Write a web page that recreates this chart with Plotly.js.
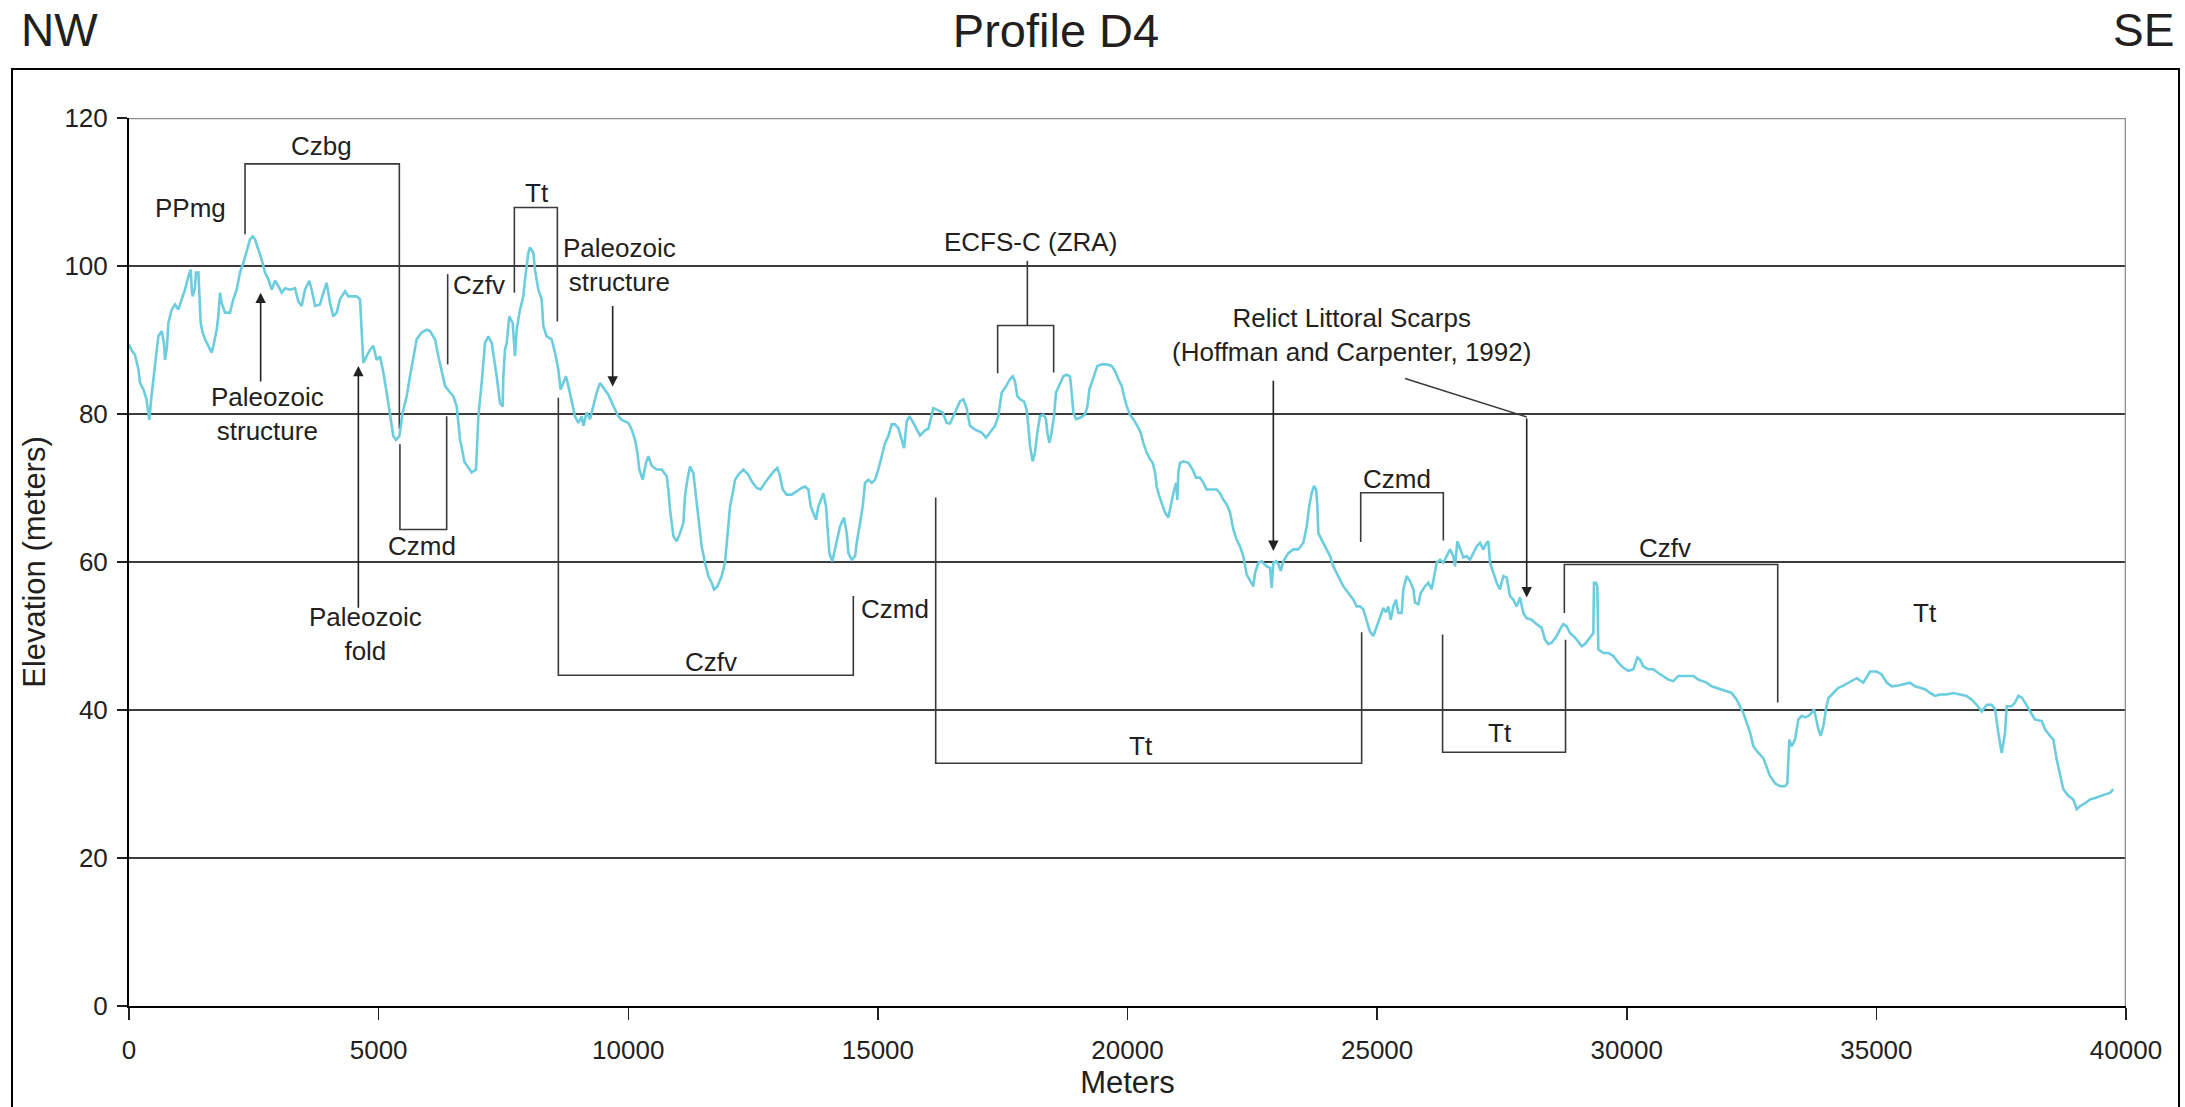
<!DOCTYPE html>
<html>
<head>
<meta charset="utf-8">
<script src="https://cdn.plot.ly/plotly-3.0.1.min.js"></script>
<style>
html,body{margin:0;padding:0;background:#fff;}
#chart{width:2185px;height:1107px;}
</style>
</head>
<body>
<div id="chart"></div>
<script>
// ---- Data: distance along profile (meters) and elevation (meters) ----
const distance = [
0,60,120,190,220,290,350,407,450,521,588,654,700,721,760,788,855,921,988,1055,1122,1189,1235,1262,1275,1320,1342,1390,1409,1436,
1476,1522,1589,1656,1703,1756,1789,1823,1856,1923,2023,2090,2156,2223,2290,2357,2424,2477,2524,2591,2657,2724,2791,2858,2924,2991,3058,3125,3225,3325,
3392,3459,3525,3612,3659,3726,3826,3893,3959,4026,4093,4160,4226,4327,4393,4460,4560,4627,4660,4694,4760,4827,4894,4960,5028,5095,5161,5228,5295,5348,
5415,5482,5562,5629,5696,5762,5862,5962,6029,6129,6196,6263,6330,6430,6497,6564,6630,6720,6864,6950,6998,7064,7131,7198,7265,7365,7431,7485,7498,7531,
7565,7618,7685,7731,7765,7832,7898,7932,7999,8032,8099,8132,8199,8266,8299,8366,8466,8533,8599,8646,8700,8753,8800,8867,8933,9000,9067,9101,9167,9234,
9301,9368,9435,9501,9601,9701,9802,9868,10002,10069,10136,10182,10222,10289,10356,10403,10469,10570,10670,10770,10803,10837,10904,10970,11037,11104,11137,11184,11237,11304,
11357,11404,11471,11538,11604,11671,11718,11785,11872,11938,11985,12039,12092,12139,12206,12306,12406,12472,12573,12653,12740,12840,12920,12987,13040,13094,13174,13274,13374,13474,
13541,13608,13655,13708,13761,13808,13855,13908,13962,13988,14028,14088,14142,14189,14242,14322,14376,14409,14476,14543,14576,14643,14696,14743,14810,14877,14943,15010,15077,15144,
15210,15277,15344,15411,15477,15524,15578,15631,15711,15778,15844,15944,16011,16111,16211,16298,16378,16445,16545,16645,16712,16778,16845,16945,17079,17166,17246,17346,17413,17480,
17546,17646,17700,17747,17793,17847,17927,17980,18014,18047,18101,18147,18194,18247,18314,18367,18394,18434,18481,18528,18568,18635,18715,18782,18848,18882,18915,18969,19049,19149,
19196,19236,19282,19349,19396,19483,19583,19683,19750,19817,19884,19930,19983,20050,20117,20197,20264,20317,20384,20451,20504,20551,20584,20638,20684,20751,20818,20865,20918,20972,
20998,21018,21052,21119,21219,21305,21372,21452,21519,21586,21686,21786,21853,21920,21987,22053,22120,22187,22254,22320,22387,22454,22521,22554,22621,22688,22788,22854,22888,22921,
22975,23022,23068,23121,23222,23322,23422,23522,23589,23642,23689,23736,23776,23803,23823,23889,23990,24057,24124,24224,24324,24424,24524,24590,24657,24724,24790,24857,24924,24991,
25058,25125,25178,25225,25272,25325,25378,25425,25492,25525,25592,25659,25726,25759,25826,25873,25959,26026,26093,26126,26193,26259,26326,26393,26460,26527,26560,26607,26660,26727,
26794,26861,26927,26994,27061,27128,27194,27228,27262,27328,27394,27461,27528,27595,27661,27728,27795,27862,27928,27995,28095,28195,28296,28362,28429,28496,28596,28663,28730,28796,
28863,28930,28997,29097,29164,29231,29297,29331,29344,29384,29411,29431,29531,29631,29731,29831,29932,30032,30132,30212,30265,30332,30432,30532,30633,30733,30833,30933,31034,31134,
31234,31334,31434,31534,31601,31701,31801,31902,32002,32102,32202,32269,32335,32402,32469,32536,32636,32736,32803,32869,32969,33069,33170,33216,33256,33303,33370,33437,33504,33571,
33637,33704,33751,33791,33838,33884,33938,33991,34038,34138,34238,34339,34472,34606,34739,34873,35006,35106,35207,35307,35440,35574,35674,35774,35874,35974,36074,36175,36275,36408,
36542,36676,36809,36909,37009,37110,37210,37310,37377,37443,37510,37577,37610,37710,37777,37844,37911,37977,38078,38178,38311,38378,38478,38545,38612,38679,38745,38846,38946,39013,
39079,39180,39280,39380,39480,39580,39680,39747
];
const elevation = [
89.4,88.5,88.0,86.0,84.2,83.3,82.0,79.2,82.4,86.9,90.5,91.2,89.6,87.3,89.0,92.3,94.1,94.8,94.1,95.5,96.8,98.6,99.5,96.4,95.9,97.0,99.1,99.1,95.9,92.3,
91.0,90.1,89.2,88.3,89.6,91.4,93.2,96.4,95.0,93.7,93.7,95.5,96.8,99.1,100.4,102.2,103.6,104.0,103.6,102.2,100.9,99.1,98.2,96.8,98.0,97.3,96.4,97.0,96.8,97.0,
95.2,94.6,96.8,98.0,96.8,94.6,94.8,96.4,97.7,95.0,93.2,93.7,95.5,96.6,95.9,95.9,95.9,95.5,91.4,86.9,87.8,88.7,89.2,87.3,87.8,85.6,82.9,79.7,77.0,76.5,
77.0,80.2,82.4,85.1,87.8,90.1,91.0,91.4,91.2,90.1,87.8,85.6,83.8,82.9,82.4,81.0,76.6,73.5,72.1,72.5,79.7,84.2,89.6,90.5,89.6,85.1,81.5,81.0,85.1,88.7,
89.6,93.2,92.3,87.8,91.4,94.1,95.9,98.2,101.8,102.5,101.8,99.5,96.8,95.5,91.9,90.5,90.1,88.3,86.0,83.3,84.2,85.1,83.8,81.5,79.7,78.8,79.7,78.4,80.2,79.3,
81.1,82.9,84.2,83.5,82.6,81.1,79.7,79.2,78.8,77.9,76.5,74.8,72.5,71.1,73.4,74.3,73.0,72.5,72.5,71.6,69.8,67.1,63.5,62.8,63.9,65.3,68.9,71.1,72.9,72.0,
68.9,65.3,62.1,59.9,58.1,57.2,56.3,56.7,58.1,59.9,63.9,67.5,69.3,71.1,71.8,72.5,71.8,70.9,70.0,69.8,70.7,71.6,72.3,72.7,71.6,69.8,69.1,69.1,69.6,70.0,
70.2,69.8,67.5,66.6,65.7,67.5,68.4,69.3,67.5,64.4,61.2,60.1,61.7,63.5,64.8,66.0,63.9,61.2,60.3,60.8,62.6,65.3,67.5,70.7,71.1,70.7,71.1,72.5,74.3,76.1,
77.0,78.6,78.6,78.1,76.5,75.4,79.0,79.7,78.8,77.9,77.1,77.8,78.0,80.8,80.5,80.2,78.8,78.7,80.2,81.7,82.0,80.8,78.4,77.9,77.5,76.8,77.5,78.4,79.7,82.9,
83.5,84.7,85.1,84.4,82.4,82.0,81.7,80.6,78.4,75.7,73.6,74.8,77.5,79.7,79.9,79.3,77.5,76.1,77.5,79.7,82.9,83.8,85.1,85.3,85.1,82.9,80.2,79.3,79.5,79.9,
81.0,83.3,84.2,85.6,86.5,86.7,86.7,86.5,85.8,84.7,83.8,82.4,81.1,79.9,79.3,78.4,77.5,76.1,74.8,73.9,73.4,72.1,70.2,68.9,68.0,66.7,66.0,67.6,69.3,70.7,
68.4,72.1,73.4,73.6,73.4,72.5,71.4,71.4,70.7,69.8,69.8,69.8,69.3,68.4,67.8,66.7,64.4,63.0,62.1,60.8,58.3,57.4,56.7,58.5,59.9,60.1,59.4,59.2,56.5,59.9,
60.1,59.7,58.8,60.1,61.2,61.7,61.7,62.6,64.8,67.6,69.3,70.3,69.8,67.6,63.9,63.0,61.7,60.8,59.4,58.1,56.7,55.8,54.9,54.0,54.0,53.6,52.2,50.6,50.0,51.3,
52.7,53.8,53.2,54.0,52.2,54.0,54.9,53.1,53.1,56.3,58.1,57.4,56.3,54.5,54.3,55.8,56.7,57.2,56.3,57.6,59.9,60.3,59.9,60.8,61.7,60.8,59.4,62.8,61.7,60.6,
60.8,60.3,61.2,62.1,62.6,61.7,62.6,62.8,59.9,58.5,57.2,56.3,58.1,57.9,55.4,54.9,54.0,55.2,53.1,52.4,52.2,51.6,51.1,49.5,48.9,49.1,50.0,50.9,51.6,51.3,
50.4,50.0,49.5,48.6,48.9,49.5,50.0,50.4,57.2,57.2,56.7,48.2,47.7,47.7,47.3,46.4,45.7,45.3,45.5,47.1,46.8,45.9,45.5,45.5,45.0,44.6,44.1,43.9,44.6,44.6,
44.6,44.6,44.1,43.9,43.7,43.2,43.0,42.8,42.5,42.3,41.4,40.5,39.6,38.3,37.0,35.1,34.2,33.5,32.4,31.1,30.1,29.7,29.7,30.1,36.0,35.1,36.0,38.7,39.2,39.0,
39.2,39.6,40.1,38.7,37.4,36.5,37.8,40.1,41.6,42.3,43.0,43.3,43.8,44.3,43.7,45.2,45.2,44.8,43.7,43.2,43.3,43.5,43.7,43.2,43.0,42.8,42.3,41.9,42.1,42.1,
42.3,42.1,41.9,41.4,40.7,39.8,40.7,40.7,40.1,36.9,34.2,36.9,40.5,40.5,41.0,41.9,41.7,41.0,39.8,38.7,38.5,37.4,36.5,36.0,33.3,31.05,29.3,28.4,27.9,26.6,
27.0,27.4,27.9,28.1,28.4,28.6,28.8,29.3
];
const xTicks = [0,5000,10000,15000,20000,25000,30000,35000,40000];
const yTicks = [0,20,40,60,80,100,120];
const chartTitle = 'Profile D4';
const leftEnd = 'NW';
const rightEnd = 'SE';

// ---- Geology labels: [text, distance, elevation] ----
const labelText = ['PPmg','Czbg','Paleozoic<br>structure','Paleozoic<br>fold','Czmd','Czfv','Tt','Paleozoic<br>structure','Czfv','Czmd','Tt','ECFS-C (ZRA)','Relict Littoral Scarps<br>(Hoffman and Carpenter, 1992)','Czmd','Tt','Czfv','Tt'];
const labelX = [1235,3860,2771,4727,5875,7010,8165,9815,11658,15343,20263,18047,24490,25390,27460,30766,35974];
const labelY = [107.9,116.2,80.05,50.3,62.1,97.5,109.9,100.2,46.5,53.7,35.1,103.2,90.65,71.2,36.9,61.9,53.1];

// ---- Arrows: tip and tail ----
const arrowX = [2637,4594,9688,22921,27996];
const arrowTipY = [96.4,86.5,83.7,61.5,55.2];
const arrowTailY = [84.2,53.6,94.8,84.7,79.6];

// ---- Bracket lines (distance, elevation vertices) ----
const brackets = [
  [[2324,104.3],[2324,113.8],[5415,113.8],[5415,78]],
  [[5427,75.9],[5427,64.4],[6363,64.4],[6363,79.7]],
  [[6383,86.7],[6383,98.9]],
  [[7719,96.4],[7719,107.9],[8580,107.9],[8580,92.5]],
  [[8600,82.2],[8600,44.7],[14508,44.7],[14508,55.4]],
  [[16158,68.7],[16158,32.8],[24690,32.8],[24690,50.5]],
  [[17994,100.7],[17994,91.96]],
  [[17399,85.5],[17399,91.96],[18521,91.96],[18521,85.6]],
  [[25559,84.8],[27996,79.6]],
  [[24671,62.7],[24671,69.35],[26326,69.35],[26326,62.9]],
  [[26311,50.2],[26311,34.3],[28774,34.3],[28774,49.5]],
  [[28750,53.1],[28750,59.66],[33024,59.66],[33024,41.0]]
];

// ---- Layout geometry (pixels) ----
const FW = 2185, FH = 1107;
const PL = 129, PR = 2126, PT = 118, PB = 1006.5;
const PW = PR - PL, PH = PB - PT;
const px = X => (X - PL) / PW;
const py = Y => (PB - Y) / PH;
const FONT = 'Liberation Sans, Arial, Helvetica, sans-serif';
const TXT = '#231f20';

const shapes = [];
brackets.forEach(pts => {
  const path = pts.map((p, i) => (i ? 'L' : 'M') + p[0] + ',' + p[1]).join(' ');
  shapes.push({type:'path', xref:'x', yref:'y', path, line:{color:'#3a3a3a', width:1.6}, layer:'below'});
});
// gray top gridline and right edge
shapes.push({type:'line', xref:'paper', yref:'y', x0:0, x1:1, y0:120, y1:120, line:{color:'#8f8f8f', width:2.6}});
shapes.push({type:'line', xref:'x', yref:'y', x0:40000, x1:40000, y0:0, y1:120, line:{color:'#8f8f8f', width:2.6}});
// outer frame
shapes.push({type:'rect', xref:'paper', yref:'paper', x0:px(12), x1:px(2179), y0:py(1120), y1:py(69), line:{color:'#000', width:2}, fillcolor:'rgba(0,0,0,0)'});

const annotations = [];
labelText.forEach((t, i) => {
  annotations.push({x:labelX[i], y:labelY[i], xref:'x', yref:'y', text:t, showarrow:false,
    font:{family:FONT, size:26, color:TXT}, xanchor:'center', yanchor:'middle'});
});
arrowX.forEach((x, i) => {
  annotations.push({x:x, y:arrowTipY[i], ax:x, ay:arrowTailY[i], xref:'x', yref:'y', axref:'x', ayref:'y',
    text:'', showarrow:true, arrowhead:2, arrowsize:1.3, arrowwidth:1.6, arrowcolor:'#222', standoff:0});
});
annotations.push({xref:'paper', yref:'paper', x:px(59), y:py(30), text:leftEnd, showarrow:false,
  font:{family:FONT, size:46, color:TXT}, xanchor:'center', yanchor:'middle'});
annotations.push({xref:'paper', yref:'paper', x:px(2143), y:py(30), text:rightEnd, showarrow:false,
  font:{family:FONT, size:46, color:TXT}, xanchor:'center', yanchor:'middle'});

const trace = {
  x: distance, y: elevation, type:'scatter', mode:'lines',
  line:{color:'#6ccdde', width:2.6}, hoverinfo:'skip'
};

const layout = {
  width: FW, height: FH,
  margin:{l:PL, r:FW-PR, t:PT, b:FH-PB},
  paper_bgcolor:'#fff', plot_bgcolor:'#fff',
  showlegend:false,
  title:{text:chartTitle, x:1056/FW, xanchor:'center', y:1-31/FH, yanchor:'middle', yref:'container',
    font:{family:FONT, size:47, color:TXT}},
  xaxis:{range:[0,40000], tickvals:xTicks, ticktext:xTicks.map(String), ticks:'outside', ticklen:12, tickwidth:1.5, tickcolor:'#222',
    showgrid:false, zeroline:false, showline:true, linecolor:'#000', linewidth:2,
    tickfont:{family:FONT, size:26, color:TXT}, ticklabelstandoff:8,
    title:{text:'Meters', font:{family:FONT, size:31, color:TXT}, standoff:4}},
  yaxis:{range:[0,120], tickvals:yTicks, ticks:'outside', ticklen:10, tickwidth:1.5, tickcolor:'#222',
    showgrid:true, gridcolor:'#3c3c3c', gridwidth:1.3, zeroline:false, showline:true, linecolor:'#000', linewidth:2,
    tickfont:{family:FONT, size:26, color:TXT}, ticklabelstandoff:4,
    title:{text:'Elevation (meters)', font:{family:FONT, size:31, color:TXT}, standoff:10}},
  shapes, annotations
};

Plotly.newPlot('chart', [trace], layout, {displayModeBar:false, staticPlot:true});
</script>
</body>
</html>
